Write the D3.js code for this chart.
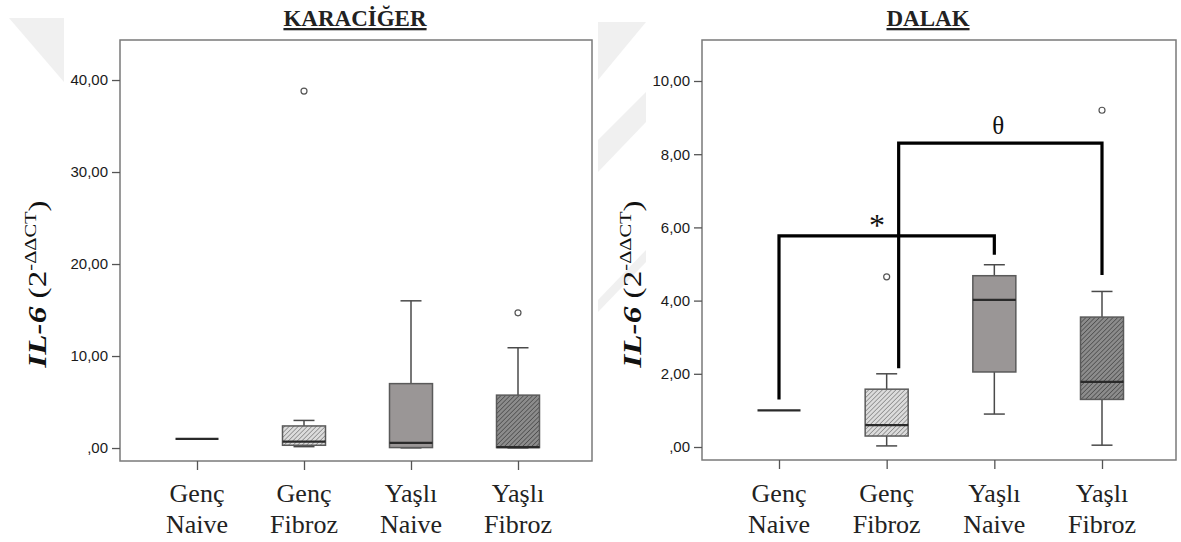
<!DOCTYPE html>
<html>
<head>
<meta charset="utf-8">
<script src="https://cdn.jsdelivr.net/npm/d3@7"></script>
<style>
  body { margin: 0; background: #fff; }
  svg { display: block; }
</style>
</head>
<body>
<div id="draw"></div>
<script>
// groups (two lines each)
const categories = [["Genç", "Naive"], ["Genç", "Fibroz"], ["Yaşlı", "Naive"], ["Yaşlı", "Fibroz"]];

// KARACİĞER : [min, q1, median, q3, max]
const liverBoxes = [[1, 1, 1, 1, 1], [0.15, 0.3, 0.7, 2.4, 3.0], [0.02, 0.05, 0.55, 7.0, 16.0], [0.02, 0.05, 0.1, 5.75, 10.9]];
const liverOutliers = [[], [38.8], [], [14.7]];
const liverTicks = [0, 10, 20, 30, 40];

// DALAK
const spleenBoxes = [[1, 1, 1, 1, 1], [0.03, 0.3, 0.6, 1.58, 2.0], [0.9, 2.05, 4.02, 4.68, 4.98], [0.05, 1.3, 1.78, 3.55, 4.25]];
const spleenOutliers = [[], [4.65], [], [9.2]];
const spleenTicks = [0, 2, 4, 6, 8, 10];

// significance brackets on DALAK: [group a, group b], bar level, leg ends, mark
const bracketPairs = [[0, 2], [1, 3]];
const bracketLevels = [5.77, 8.3];
const bracketEnds = [[1.3, 5.25], [2.15, 4.7]];
const bracketMarks = ["*", "θ"];

const W = 1181, H = 542;
const svg = d3.select("#draw").append("svg").attr("width", W).attr("height", H);

// fills for the four groups
const defs = svg.append("defs");
function hatch(id, bg, fg) {
  const p = defs.append("pattern").attr("id", id).attr("patternUnits", "userSpaceOnUse")
    .attr("width", 3.2).attr("height", 3.2).attr("patternTransform", "rotate(45)");
  p.append("rect").attr("width", 3.2).attr("height", 3.2).attr("fill", bg);
  p.append("line").attr("x1", 0).attr("y1", 0).attr("x2", 0).attr("y2", 3.2)
    .attr("stroke", fg).attr("stroke-width", 1.2);
}
hatch("hatchLight", "#dcdcdc", "#707070");
hatch("hatchDark", "#8c8c8c", "#3c3c3c");
const fills = ["#ffffff", "url(#hatchLight)", "#9a9696", "url(#hatchDark)"];

// faint watermark pieces in the background
const wm = svg.append("g").attr("fill", "#f0f0f0");
wm.append("polygon").attr("points", "9,18 64,18 64,82");
wm.append("polygon").attr("points", "598,22 646,22 598,80");
wm.append("polygon").attr("points", "598,140 646,92 646,122 598,172");
wm.append("polygon").attr("points", "598,300 646,250 646,262 598,312");

const fmt = v => d3.format(".2f")(v).replace(".", ",").replace(/^0,/, ",");

function panel(cfg) {
  const { x0, x1, y0, y1, domain, boxes, outliers, ticks, title, titleX, labelX } = cfg;
  const g = svg.append("g");

  const y = d3.scaleLinear().domain(domain).range([y1, y0]);
  const x = d3.scalePoint().domain(d3.range(categories.length)).range([x0 + 77, x1 - 74]);

  // title
  g.append("text").attr("x", titleX).attr("y", 26)
    .attr("text-anchor", "middle")
    .style("font-family", "'Liberation Serif', 'Times New Roman', serif")
    .style("font-weight", "bold").style("font-size", "23px")
    .style("text-decoration", "underline").style("fill", "#222")
    .text(title);

  // frame
  g.append("rect").attr("x", x0).attr("y", y0).attr("width", x1 - x0).attr("height", y1 - y0)
    .attr("fill", "none").attr("stroke", "#7a7a7a").attr("stroke-width", 1.5);

  // y axis
  const ya = g.append("g").attr("transform", `translate(${x0},0)`)
    .call(d3.axisLeft(y).tickValues(ticks).tickFormat(fmt).tickSize(8).tickPadding(4));
  ya.select(".domain").remove();
  ya.selectAll(".tick line").attr("stroke", "#555").attr("stroke-width", 1.3);
  ya.selectAll("text").style("font-family", "'Liberation Sans', Arial, sans-serif")
    .style("font-size", "15px").attr("fill", "#1a1a1a");

  // x axis ticks + labels
  const xa = g.append("g").attr("transform", `translate(0,${y1})`)
    .call(d3.axisBottom(x).tickSize(9).tickFormat(""));
  xa.select(".domain").remove();
  xa.selectAll(".tick line").attr("stroke", "#555").attr("stroke-width", 1.3);
  categories.forEach((c, i) => {
    const t = g.append("text").attr("x", x(i)).attr("text-anchor", "middle")
      .style("font-family", "'Liberation Serif', 'Times New Roman', serif")
      .style("font-size", "26px").style("fill", "#222");
    t.append("tspan").attr("x", x(i)).attr("y", 502).text(c[0]);
    t.append("tspan").attr("x", x(i)).attr("y", 533).text(c[1]);
  });

  // y label (stretched along the text, as in the original)
  const lab = g.append("text")
    .attr("transform", `translate(${labelX},284) rotate(-90) scale(1.28,1)`)
    .attr("text-anchor", "middle")
    .style("font-family", "'Liberation Serif', 'Times New Roman', serif")
    .style("font-size", "26px").style("fill", "#111");
  lab.append("tspan").style("font-weight", "bold").style("font-style", "italic").text("IL-6");
  lab.append("tspan").text(" (2");
  lab.append("tspan").attr("dy", -10).style("font-size", "16px").text("-ΔΔCT");
  lab.append("tspan").attr("dy", 10).text(")");

  // boxes
  const bw = 43, cw = 21;
  boxes.forEach((b, i) => {
    const cx = x(i);
    const [mn, q1, md, q3, mx] = b;
    const bg = g.append("g");
    if (q3 > q1) {
      bg.append("line").attr("x1", cx).attr("x2", cx).attr("y1", y(q3)).attr("y2", y(mx))
        .attr("stroke", "#4a4a4a").attr("stroke-width", 1.5);
      bg.append("line").attr("x1", cx).attr("x2", cx).attr("y1", y(q1)).attr("y2", y(mn))
        .attr("stroke", "#4a4a4a").attr("stroke-width", 1.5);
      bg.append("line").attr("x1", cx - cw / 2).attr("x2", cx + cw / 2).attr("y1", y(mx)).attr("y2", y(mx))
        .attr("stroke", "#4a4a4a").attr("stroke-width", 1.5);
      bg.append("line").attr("x1", cx - cw / 2).attr("x2", cx + cw / 2).attr("y1", y(mn)).attr("y2", y(mn))
        .attr("stroke", "#4a4a4a").attr("stroke-width", 1.5);
      bg.append("rect").attr("x", cx - bw / 2).attr("y", y(q3)).attr("width", bw).attr("height", y(q1) - y(q3))
        .attr("fill", fills[i]).attr("stroke", "#5a5a5a").attr("stroke-width", 1.5);
    }
    bg.append("line").attr("x1", cx - bw / 2).attr("x2", cx + bw / 2).attr("y1", y(md)).attr("y2", y(md))
      .attr("stroke", "#2a2a2a").attr("stroke-width", 2.2);
    outliers[i].forEach(v => {
      bg.append("circle").attr("cx", cx).attr("cy", y(v)).attr("r", 3)
        .attr("fill", "#fff").attr("stroke", "#555").attr("stroke-width", 1.2);
    });
  });
  return { x, y, g };
}

panel({ x0: 120, x1: 592, y0: 40, y1: 461, domain: [-1.41, 44.35], boxes: liverBoxes, outliers: liverOutliers,
  ticks: liverTicks, title: "KARACİĞER", titleX: 355, labelX: 46 });

const right = panel({ x0: 702, x1: 1176, y0: 40, y1: 460, domain: [-0.355, 11.12], boxes: spleenBoxes, outliers: spleenOutliers,
  ticks: spleenTicks, title: "DALAK", titleX: 928, labelX: 641 });

// significance brackets (the second one starts beside the outlier, so its left leg is nudged right)
const legNudge = [0, 12];
bracketPairs.forEach((p, k) => {
  const xa = right.x(p[0]) + legNudge[k], xb = right.x(p[1]);
  const yl = right.y(bracketLevels[k]);
  right.g.append("path")
    .attr("d", `M${xa},${right.y(bracketEnds[k][0])}V${yl}H${xb}V${right.y(bracketEnds[k][1])}`)
    .attr("fill", "none").attr("stroke", "#000").attr("stroke-width", 3.2);
  right.g.append("text")
    .attr("x", k === 0 ? xa + 98 : (xa + xb) / 2 - 2)
    .attr("y", yl - (k === 0 ? 0 : 9))
    .attr("text-anchor", "middle")
    .style("font-family", "'Liberation Serif', 'Times New Roman', serif")
    .style("font-size", k === 0 ? "32px" : "25px").style("fill", "#111")
    .text(bracketMarks[k]);
});
</script>
</body>
</html>
